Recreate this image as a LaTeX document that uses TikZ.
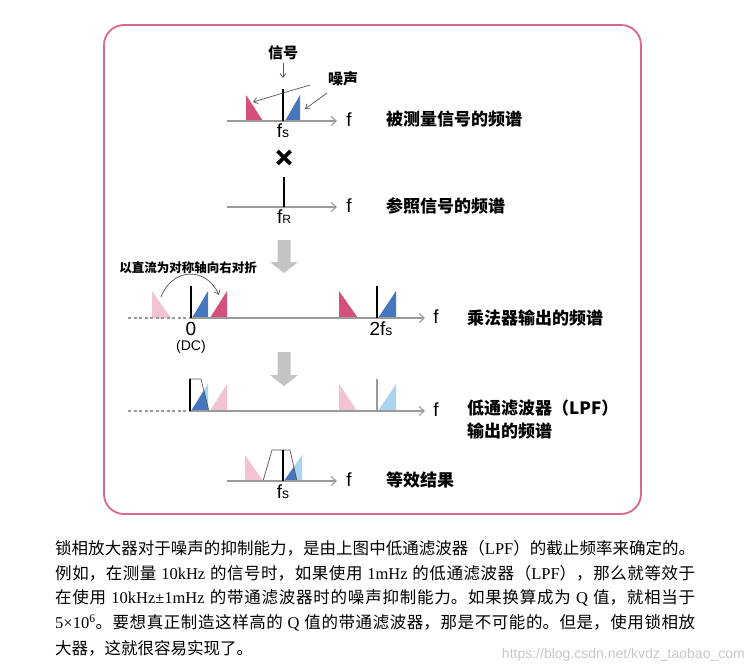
\documentclass[tikz,border=0pt]{standalone}
\usepackage{fontspec}
\setmainfont{Liberation Sans}
\newfontfamily\cjk{Noto Sans CJK SC}
\newfontfamily\lser{Liberation Serif}
\usetikzlibrary{arrows.meta}
\XeTeXlinebreaklocale "zh"
\XeTeXlinebreakskip=0pt plus 1pt minus 0.1pt
\definecolor{mag}{HTML}{D6507E}
\definecolor{blu}{HTML}{4677BE}
\definecolor{lpink}{HTML}{F3C2D3}
\definecolor{lblu}{HTML}{A9D5F1}
\definecolor{axg}{HTML}{9A9A9A}
\definecolor{darkg}{HTML}{555555}
\definecolor{arrg}{HTML}{C4C4C4}
\definecolor{boxc}{HTML}{D8668F}
\definecolor{wmk}{HTML}{C8C8C8}
\tikzset{
  axisline/.style={draw=axg, line width=1.1pt, -{Straight Barb[length=5pt,width=9pt]}},
  dashaxis/.style={draw=axg, line width=1.1pt, dash pattern=on 3pt off 2.5pt},
  sigline/.style={draw=black, line width=2.6pt},
  thinarr/.style={draw=darkg, line width=0.7pt, -{Straight Barb[length=4pt,width=6pt]}},
  lpfline/.style={draw=darkg, line width=0.7pt},
  clab/.style={font=\cjk\bfseries\fontsize{17}{17}\selectfont, inner sep=0pt, anchor=west},
  slab/.style={font=\cjk\bfseries\fontsize{15}{15}\selectfont, inner sep=0pt},
  flab/.style={font=\fontsize{19}{19}\selectfont, inner sep=0pt},
  para/.style={font=\cjk\fontsize{16.5}{16.5}\selectfont, inner sep=0pt, anchor=west},
}
\newcommand{\smalls}{\fontsize{14}{14}\selectfont s}
\newcommand{\pline}[1]{\parbox{640pt}{\parindent=0pt\parfillskip=0pt\tolerance=10000\hbadness=10000\emergencystretch=20pt #1\par}}
\begin{document}
\begin{tikzpicture}[x=1pt,y=-1pt]
\useasboundingbox (0,0) rectangle (750,672);
\fill[white] (0,0) rectangle (750,672);
% frame
\draw[boxc, line width=1.8pt, rounded corners=20pt] (104,25) rectangle (641,514);

% ===== section 1: measured signal =====
\coordinate (a1s) at (227,121); \coordinate (a1e) at (337,121);
\fill[mag] (246,121) -- (246,95) -- (263,121) -- cycle;
\fill[blu] (285,121) -- (300,95) -- (300,121) -- cycle;
\draw[axisline] (a1s) -- (a1e);
\draw[sigline] (283,121) -- (283,89);
\node[flab] (f1) at (349,120) {f};
\node[flab] (fs1) at (283,131) {f\smalls};
\node[slab] (sig) at (283,53) {信号};
\coordinate (sigt) at (283,78);
\draw[thinarr] (sig.south) ++(0,3) -- (sigt);
\node[slab] (noise) at (343,79) {噪声};
\coordinate (n1s) at (310,85); \coordinate (n1e) at (253,102);
\coordinate (n2s) at (327,93); \coordinate (n2e) at (305,109);
\draw[thinarr] (n1s) -- (n1e);
\draw[thinarr] (n2s) -- (n2e);
\node[clab] (l1) at (386,119) {被测量信号的频谱};

% multiply sign
\draw[line width=3.6pt] (277.5,151) -- (290.5,164);
\draw[line width=3.6pt] (290.5,151) -- (277.5,164);

% ===== section 2: reference =====
\coordinate (a2s) at (227,207); \coordinate (a2e) at (337,207);
\draw[axisline] (a2s) -- (a2e);
\draw[sigline] (284,207) -- (284,177);
\node[flab] (f2) at (349,206) {f};
\node[flab] (fr) at (284,217) {f\fontsize{12}{12}\selectfont R};
\node[clab] (l2) at (386,206) {参照信号的频谱};

% big arrow 1
\fill[arrg] (277.5,240) -- (290.5,240) -- (290.5,262) -- (298,262) -- (284,273) -- (270,262) -- (277.5,262) -- cycle;

% ===== section 3: multiplier output =====
\node[font=\cjk\bfseries\fontsize{12.5}{12.5}\selectfont, inner sep=0pt] (fold) at (188,268) {以直流为对称轴向右对折};
\fill[lpink] (152,318) -- (152,291) -- (171,318) -- cycle;
\fill[blu] (192,318) -- (208,291) -- (208,318) -- cycle;
\fill[mag] (210,318) -- (227,291) -- (227,318) -- cycle;
\fill[mag] (339,318) -- (339,291) -- (358,318) -- cycle;
\fill[blu] (378,318) -- (396,291) -- (396,318) -- cycle;
\coordinate (d3s) at (128,318); \coordinate (a3s) at (190,318); \coordinate (a3e) at (425,318);
\draw[dashaxis] (d3s) -- (a3s);
\draw[axisline] (a3s) -- (a3e);
\draw[sigline] (191,318) -- (191,286);
\draw[sigline] (377,318) -- (377,286);
\coordinate (arcs) at (161,297); \coordinate (arce) at (219,295);
\draw[thinarr] (arcs) .. controls (172,268) and (206,266) .. (arce);
\node[flab] (f3) at (436,317) {f};
\node[flab] (zero) at (191,329) {0};
\node[font=\fontsize{14}{14}\selectfont, inner sep=0pt] (dc) at (191,347) {(DC)};
\node[flab] (twofs) at (381,329) {2f\smalls};
\node[clab] (l3) at (467,318) {乘法器输出的频谱};

% big arrow 2
\fill[arrg] (277.5,352) -- (290.5,352) -- (290.5,375) -- (298,375) -- (284,386) -- (270,375) -- (277.5,375) -- cycle;

% ===== section 4: LPF output =====
\fill[lblu] (191,411) -- (208,384) -- (208,411) -- cycle;
\begin{scope}
  \clip (189,411) -- (189,379) -- (201,379) -- (209,411) -- cycle;
  \fill[blu] (191,411) -- (208,384) -- (208,411) -- cycle;
\end{scope}
\fill[lpink] (210,411) -- (227,384) -- (227,411) -- cycle;
\fill[lpink] (339,411) -- (339,384) -- (357,411) -- cycle;
\fill[lblu] (378,411) -- (396,384) -- (396,411) -- cycle;
\draw[lpfline] (189,379) -- (201,379) -- (209,411);
\coordinate (d4s) at (128,411); \coordinate (a4s) at (190,411); \coordinate (a4e) at (425,411);
\draw[dashaxis] (d4s) -- (a4s);
\draw[axisline] (a4s) -- (a4e);
\draw[sigline] (190,411) -- (190,379);
\draw[draw=axg, line width=1.6pt] (377,411) -- (377,379);
\node[flab] (f4) at (436,410) {f};
\node[clab] (l4a) at (467,408) {低通滤波器（LPF）};
\node[clab] (l4b) at (467,431) {输出的频谱};

% ===== section 5: equivalent =====
\fill[lpink] (245,481) -- (245,455) -- (263,481) -- cycle;
\fill[lblu] (284,481) -- (302,455) -- (302,481) -- cycle;
\begin{scope}
  \clip (263,481) -- (272,450) -- (290,450) -- (297,481) -- cycle;
  \fill[blu] (284,481) -- (302,455) -- (302,481) -- cycle;
\end{scope}
\draw[lpfline] (263,481) -- (272,450) -- (290,450) -- (297,481);
\coordinate (a5s) at (227,481); \coordinate (a5e) at (337,481);
\draw[axisline] (a5s) -- (a5e);
\draw[sigline] (283,481) -- (283,450);
\node[flab] (f5) at (349,480) {f};
\node[flab] (fs5) at (283,492) {f\smalls};
\node[clab] (l5) at (386,480) {等效结果};

% ===== paragraph =====
\node[para] (p1) at (55,548) {\pline{锁相放大器对于噪声的抑制能力，是由上图中低通滤波器（{\lser LPF}）的截止频率来确定的。}};
\node[para] (p2) at (55,573) {\pline{例如，在测量 {\lser 10kHz} 的信号时，如果使用 {\lser 1mHz} 的低通滤波器（{\lser LPF}），那么就等效于}};
\node[para] (p3) at (55,598) {\pline{在使用 {\lser 10kHz±1mHz} 的带通滤波器时的噪声抑制能力。如果换算成为 {\lser Q} 值，就相当于}};
\node[para] (p4) at (55,623) {\pline{{\lser 5×10\textsuperscript{6}}。要想真正制造这样高的 {\lser Q} 值的带通滤波器，那是不可能的。但是，使用锁相放}};
\node[para] (p5) at (55,648) {大器，这就很容易实现了。};
\node[font=\fontsize{14}{14}\selectfont, text=wmk, inner sep=0pt, anchor=east] (wm) at (745,655) {https://blog.csdn.net/kvdz\_taobao\_com};
\end{tikzpicture}
\end{document}
